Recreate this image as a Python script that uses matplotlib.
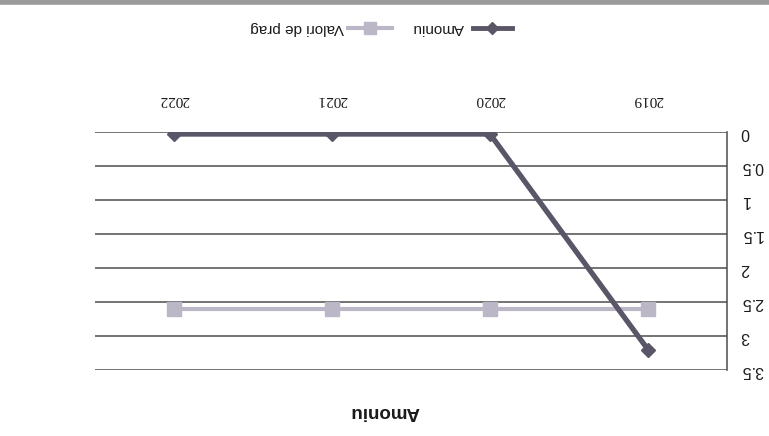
import matplotlib
matplotlib.use("Agg")
import matplotlib.pyplot as plt
from matplotlib.lines import Line2D
import numpy as np

years = ["2019", "2020", "2021", "2022"]
amoniu = [3.2, 0.03, 0.03, 0.03]
valori_prag = [2.6, 2.6, 2.6, 2.6]
yticks = [0, 0.5, 1, 1.5, 2, 2.5, 3, 3.5]
ytick_labels = ["0", "0.5", "1", "1.5", "2", "2.5", "3", "3.5"]
title = "Amoniu"
series_names = ["Amoniu", "Valori de prag"]

c_am = "#5b5667"
c_vp = "#bbb7c6"
c_grid = "#4d4d4d"
font = "Liberation Sans"

W, H = 769, 436
fig = plt.figure(figsize=(W / 100, H / 100), dpi=100)
fig.patch.set_facecolor("white")
ax = fig.add_axes([95 / W, 1 - 370 / H, (727 - 95) / W, (370 - 132) / H])

x = np.arange(len(years))
ax.plot(x, valori_prag, color=c_vp, lw=3, marker="s", ms=10, mfc=c_vp, mec=c_vp, zorder=3)
ax.plot(x, amoniu, color=c_am, lw=3.8, marker="D", ms=7, mfc=c_am, mec=c_am, zorder=4)

# upside-down (rotated 180 degrees) chart
ax.set_xlim(3.5, -0.5)
ax.set_ylim(3.5, 0)
ax.set_yticks(yticks)
ax.set_yticklabels(ytick_labels)
ax.yaxis.tick_right()
ax.set_xticks(x)
ax.set_xticklabels(years)
ax.xaxis.tick_top()
ax.tick_params(axis="y", length=0, pad=10, labelsize=11.5, labelcolor="#1a1a1a")
ax.tick_params(axis="x", length=0, pad=19, labelsize=10.5, labelcolor="#1a1a1a")
for t in ax.get_yticklabels():
    t.set_rotation(180)
    t.set_family(font)
    t.set_verticalalignment("center")
for t in ax.get_xticklabels():
    t.set_rotation(180)
    t.set_family("Liberation Serif")
    t.set_fontsize(11)

ax.yaxis.grid(True, color=c_grid, lw=1.1)
ax.set_axisbelow(True)
for s in ["left", "top", "bottom"]:
    ax.spines[s].set_visible(False)
ax.spines["right"].set_color(c_grid)
ax.spines["right"].set_linewidth(1.1)

fig.text(385 / W, 1 - 411 / H, title, rotation=180, ha="center", va="center",
         fontsize=13.5, fontweight="bold", family=font, color="#1a1a1a")

# legend (upside down)
ly = 1 - 28 / H
fig.add_artist(Line2D([473 / W, 512 / W], [ly, ly], color=c_am, lw=3.5,
                      transform=fig.transFigure))
fig.add_artist(Line2D([492 / W], [ly], color=c_am, marker="D", ms=6,
                      transform=fig.transFigure))
fig.text(412 / W, ly, series_names[0], rotation=180, ha="left", va="center",
         fontsize=11, family=font, color="#1a1a1a")
fig.add_artist(Line2D([348 / W, 392 / W], [ly, ly], color=c_vp, lw=3,
                      transform=fig.transFigure))
fig.add_artist(Line2D([370 / W], [ly], color=c_vp, marker="s", ms=8,
                      transform=fig.transFigure))
fig.text(250 / W, ly, series_names[1], rotation=180, ha="left", va="center",
         fontsize=11, family=font, color="#1a1a1a")

# scan border at top
fig.add_artist(Line2D([0, 1], [1 - 2 / H, 1 - 2 / H], color="#9a9a9a", lw=4,
                      transform=fig.transFigure))

fig.savefig("out.png", dpi=100)
